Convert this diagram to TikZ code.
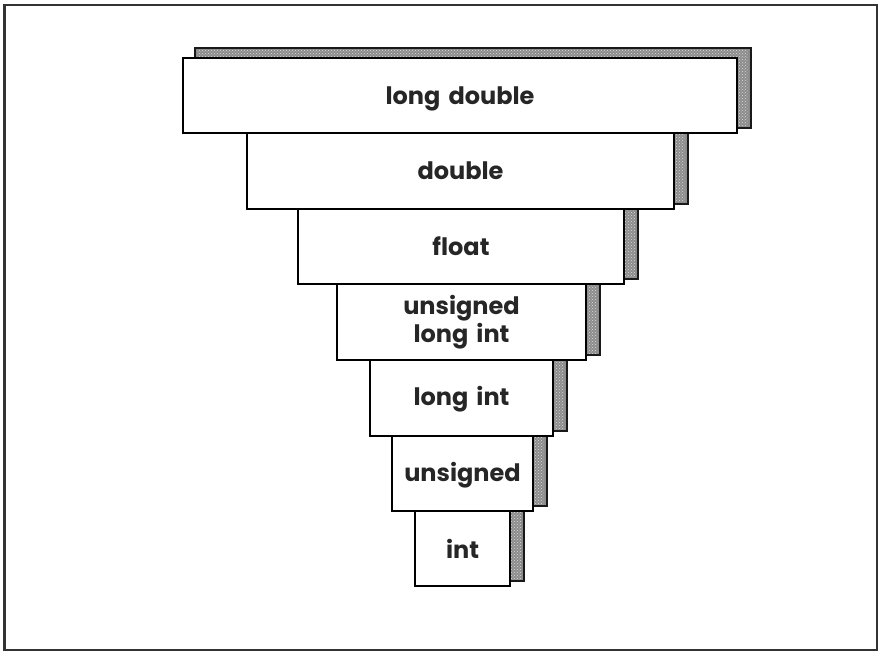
\documentclass[tikz,border=0pt]{standalone}
\usepackage{fontspec}
\setmainfont{Poppins}[WordSpace={1.6}]
\usetikzlibrary{calc,backgrounds,patterns}
\begin{document}
\begin{tikzpicture}[x=1pt,y=-1pt,
  tier/.style={draw=black, fill=white, line width=1.6pt, inner sep=0pt, outer sep=0pt,
    align=center, font=\fontsize{24}{28}\selectfont\bfseries, text=black!85},
  tiershadow/.style={draw=black!90, fill=black!45, line width=2pt}]
\useasboundingbox (0,0) rectangle (880,652);
% outer frame
\draw[line width=2.2pt, black!80] (4.5,5) rectangle (877,650);

% the stacked tiers, widest at the top
\node[tier, minimum width=554pt, minimum height=75pt, text height=18pt, text depth=0pt] (ld)  at (460,95.5)  {long double};
\node[tier, minimum width=427pt, minimum height=76pt] (d)   at (460.5,171) {double};
\node[tier, minimum width=326pt, minimum height=75pt] (f)   at (461,246.5) {float};
\node[tier, minimum width=249pt, minimum height=76pt] (uli) at (461.5,322) {unsigned\\long int};
\node[tier, minimum width=183pt, minimum height=76pt, text height=18pt, text depth=3pt] (li)  at (461.5,398) {long int};
\node[tier, minimum width=141pt, minimum height=75pt, text height=18pt, text depth=3pt] (u)   at (462.5,473.5) {unsigned};
\node[tier, minimum width=95pt,  minimum height=75pt] (i)   at (462.5,548.5) {int};

% paper and drop shadows behind each tier
\begin{scope}[on background layer]
  \fill[white] (0,0) rectangle (880,652);
  \foreach \n in {ld,d,f,uli,li,u,i}{
    \draw[tiershadow] ($(\n.north west)+(12,-10)$) rectangle ($(\n.south east)+(14,-5)$);
    \fill[pattern=crosshatch dots, pattern color=white!85!black]
      ($(\n.north west)+(14,-8)$) rectangle ($(\n.south east)+(11,-7)$);
  }
\end{scope}
\end{tikzpicture}
\end{document}
